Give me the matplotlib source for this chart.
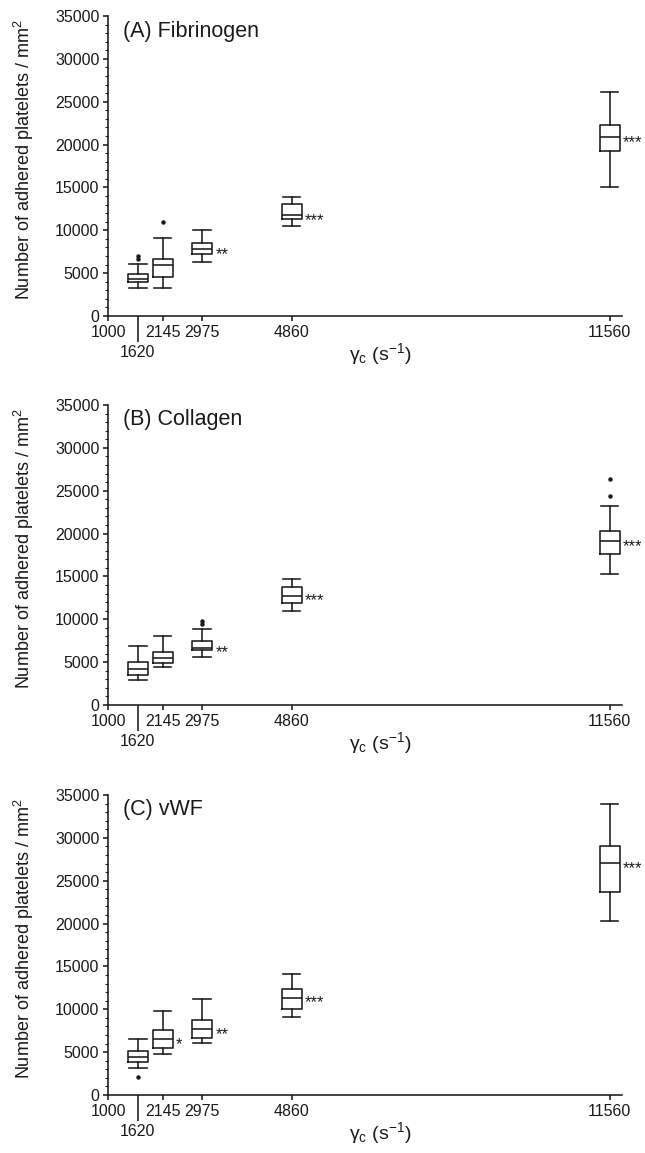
import matplotlib
matplotlib.use("Agg")
import matplotlib.pyplot as plt
from matplotlib.ticker import MultipleLocator

plt.rcParams['font.family'] = ['Liberation Sans', 'DejaVu Sans']
plt.rcParams['mathtext.fontset'] = 'custom'
plt.rcParams['mathtext.rm'] = 'Liberation Sans'
plt.rcParams['mathtext.it'] = 'Liberation Sans:italic'

# shear rates (s^-1) of each box and the axis ticks
shear_rates = [1620, 2145, 2975, 4860, 11560]
tick_values = [1000, 1620, 2145, 2975, 4860, 11560]
tick_labels = ["1000", "1620", "2145", "2975", "4860", "11560"]

# (A) Fibrinogen
fib_whislo = [3230, 3270, 6270, 10470, 15050]
fib_q1 = [3930, 4520, 7200, 11290, 19250]
fib_med = [4320, 5910, 7820, 11730, 20850]
fib_q3 = [4900, 6690, 8520, 13070, 22280]
fib_whishi = [6030, 9130, 10030, 13920, 26100]
fib_fliers = [[6700, 6950], [11000], [], [], []]
fib_stars = ["", "", "**", "***", "***"]

# (B) Collagen
col_whislo = [2950, 4400, 5560, 10930, 15280]
col_q1 = [3500, 4860, 6380, 11860, 17580]
col_med = [4200, 5480, 6690, 12750, 19130]
col_q3 = [5050, 6220, 7500, 13800, 20300]
col_whishi = [6850, 8050, 8900, 14700, 23250]
col_fliers = [[], [], [9500, 9800], [], [24380, 26400]]
col_stars = ["", "", "**", "***", "***"]

# (C) vWF
vwf_whislo = [3150, 4740, 6100, 9070, 20270]
vwf_q1 = [3890, 5480, 6690, 10080, 23680]
vwf_med = [4470, 6500, 7700, 11370, 27030]
vwf_q3 = [5130, 7550, 8710, 12400, 29090]
vwf_whishi = [6570, 9800, 11240, 14120, 33920]
vwf_fliers = [[2060], [], [], [], []]
vwf_stars = ["", "*", "**", "***", "***"]

panels = [
    ("(A) Fibrinogen", fib_whislo, fib_q1, fib_med, fib_q3, fib_whishi, fib_fliers, fib_stars),
    ("(B) Collagen", col_whislo, col_q1, col_med, col_q3, col_whishi, col_fliers, col_stars),
    ("(C) vWF", vwf_whislo, vwf_q1, vwf_med, vwf_q3, vwf_whishi, vwf_fliers, vwf_stars),
]

ink = "#1a1a1a"
fig = plt.figure(figsize=(6.45, 11.53), dpi=100)
bottoms = [0.7259, 0.3886, 0.0503]

for (title, wlo, q1, med, q3, whi, fl, stars), b in zip(panels, bottoms):
    ax = fig.add_axes([0.168, b, 0.7965, 0.2602])
    stats = []
    for i in range(len(shear_rates)):
        stats.append(dict(whislo=wlo[i], q1=q1[i], med=med[i], q3=q3[i],
                          whishi=whi[i], fliers=fl[i]))
    lw = 1.15
    ax.bxp(stats, positions=shear_rates, widths=420, capwidths=370,
           manage_ticks=False,
           boxprops=dict(color=ink, linewidth=lw),
           medianprops=dict(color=ink, linewidth=lw),
           whiskerprops=dict(color=ink, linewidth=lw),
           capprops=dict(color=ink, linewidth=lw),
           flierprops=dict(marker='o', markersize=2.2, markerfacecolor=ink,
                           markeredgecolor=ink))
    for x, m, s in zip(shear_rates, med, stars):
        if s:
            ax.annotate(s, xy=(x, m), xytext=(9.5, -7), textcoords='offset points',
                        ha='left', va='baseline', fontsize=12, color=ink)

    ax.set_xlim(1000, 11824)
    ax.set_ylim(0, 35000)
    ax.set_xticks(tick_values)
    ax.set_xticklabels(tick_labels)
    ax.yaxis.set_major_locator(MultipleLocator(5000))
    ax.yaxis.set_minor_locator(MultipleLocator(1000))
    ax.spines['top'].set_visible(False)
    ax.spines['right'].set_visible(False)
    for sp in ['left', 'bottom']:
        ax.spines[sp].set_linewidth(lw)
        ax.spines[sp].set_color(ink)
    ax.tick_params(axis='both', which='major', direction='out', length=3.5,
                   width=lw, color=ink, labelsize=11.5, labelcolor=ink, pad=3)
    ax.tick_params(axis='y', which='minor', direction='out', length=2,
                   width=0.8, color=ink)
    ax.tick_params(axis='x', which='minor', bottom=False)
    # lowered label and long tick for 1620
    t1620 = ax.xaxis.get_major_ticks()[1]
    t1620.set_pad(17.5)
    t1620.tick1line.set_markersize(19)

    ax.text(0.029, 0.985, title, transform=ax.transAxes, fontsize=15.5,
            ha='left', va='top', color=ink)
    ax.set_xlabel(r"γ$_\mathrm{c}$ (s$^{-1}$)", fontsize=14, color=ink)
    ax.xaxis.set_label_coords(0.53, -0.085)
    ax.set_ylabel(r"Number of adhered platelets / mm$^2$", fontsize=13, color=ink)
    ax.yaxis.set_label_coords(-0.14, 0.52)

fig.savefig("out.png", dpi=100)
